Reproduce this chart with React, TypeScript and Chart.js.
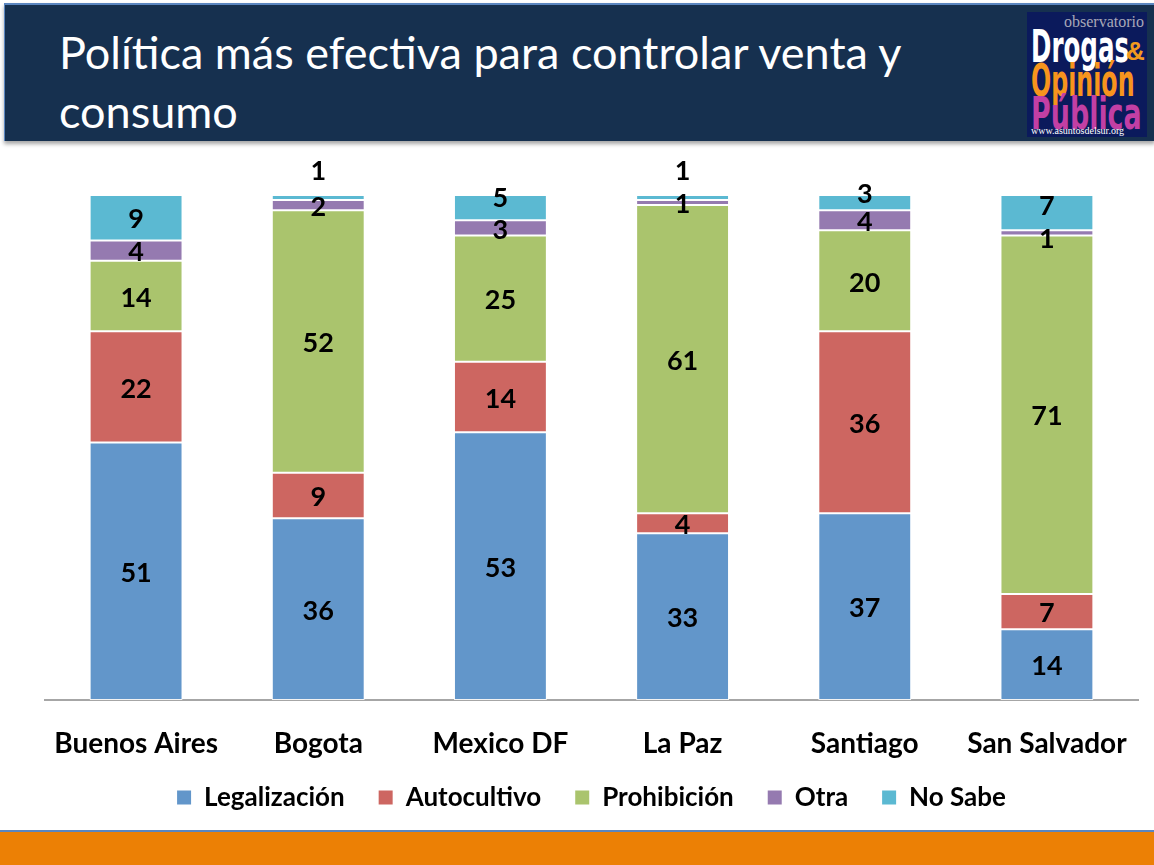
import React, { useEffect, useRef } from "react";
import { Chart, registerables } from "chart.js";

Chart.register(...registerables);

const categories = ["Buenos Aires", "Bogota", "Mexico DF", "La Paz", "Santiago", "San Salvador"];
const seriesNames = ["Legalización", "Autocultivo", "Prohibición", "Otra", "No Sabe"];
const legalizacion = [51, 36, 53, 33, 37, 14];
const autocultivo = [22, 9, 14, 4, 36, 7];
const prohibicion = [14, 52, 25, 61, 20, 71];
const otra = [4, 2, 3, 1, 4, 1];
const noSabe = [9, 1, 5, 1, 3, 7];
const seriesColors = ["#6296CA", "#CD6661", "#AAC46D", "#957AB0", "#5BB9D2"];

// vertical nudges (px) for data labels that were moved off the small segments
const labelNudge = [
  [0, 0, 0, 0, 0, 0],
  [0, 0, 0, 0, 0, 0],
  [0, 0, 0, 0, 0, 0],
  [0, 0, 0, 0, 0, 4],
  [0, -28, -11, -28, -10, -8],
];

const segmentLabels = {
  id: "segmentLabels",
  afterDatasetsDraw(chart: any) {
    const ctx = chart.ctx;
    ctx.save();
    ctx.font = "bold 27px Lato";
    ctx.fillStyle = "#000000";
    ctx.textAlign = "center";
    ctx.textBaseline = "middle";
    chart.data.datasets.forEach((ds: any, i: number) => {
      const meta = chart.getDatasetMeta(i);
      meta.data.forEach((el: any, j: number) => {
        const p = el.getProps(["x", "y", "base"], true);
        const cy = (p.y + p.base) / 2 + 2 + (labelNudge[i]?.[j] ?? 0);
        ctx.fillText(String(ds.data[j]), p.x, cy);
      });
    });
    ctx.restore();
  },
};

// category names under the axis, placed with the x scale
const categoryLabels = {
  id: "categoryLabels",
  afterDraw(chart: any) {
    const ctx = chart.ctx;
    const xs = chart.scales.x;
    ctx.save();
    ctx.font = "bold 28px Lato";
    ctx.fillStyle = "#000000";
    ctx.textAlign = "center";
    ctx.textBaseline = "middle";
    (chart.data.labels as string[]).forEach((lab, i) => {
      ctx.fillText(lab, xs.getPixelForValue(i), xs.top + 44);
    });
    ctx.restore();
  },
};

const logoWord = (color: string, top: number, sx: number): React.CSSProperties => ({
  position: "absolute",
  left: 4,
  top,
  color,
  fontFamily: "'Liberation Sans Narrow', 'DejaVu Sans Condensed', 'DejaVu Sans', sans-serif",
  fontWeight: "bold",
  fontSize: 44,
  lineHeight: "44px",
  whiteSpace: "nowrap",
  transform: `scale(${sx}, 1)`,
  transformOrigin: "left top",
});

export default function App() {
  const canvasRef = useRef<HTMLCanvasElement | null>(null);

  useEffect(() => {
    document.body.style.margin = "0";
    const canvas = canvasRef.current;
    if (!canvas) return;
    const values = [legalizacion, autocultivo, prohibicion, otra, noSabe];
    const chart = new Chart(canvas, {
      type: "bar",
      data: {
        labels: categories,
        datasets: seriesNames.map((name, i) => ({
          label: name,
          data: values[i],
          backgroundColor: seriesColors[i],
          borderColor: "rgba(255,255,255,0.85)",
          borderWidth: 1,
          borderSkipped: false,
          barPercentage: 0.51,
          categoryPercentage: 1,
        })),
      },
      options: {
        responsive: false,
        animation: false,
        devicePixelRatio: 1,
        layout: { padding: { left: 45, right: 16, top: 50, bottom: 9.5 } },
        scales: {
          x: {
            stacked: true,
            grid: { display: false, drawTicks: false },
            border: { display: true, color: "#A6A6A6", width: 2 },
            ticks: { display: false },
            afterFit: (scale: any) => {
              scale.height = 50.5;
            },
          },
          y: {
            stacked: true,
            display: false,
            min: 0,
            max: 100,
          },
        },
        plugins: {
          tooltip: { enabled: false },
          legend: {
            display: true,
            position: "bottom",
            labels: {
              color: "#000000",
              font: { family: "Lato", size: 26, weight: "bold" },
              boxWidth: 14,
              boxHeight: 14,
              padding: 34,
              generateLabels: (c: any) =>
                (Chart.defaults.plugins.legend.labels as any)
                  .generateLabels(c)
                  .map((l: any) => ({ ...l, lineWidth: 0, strokeStyle: "rgba(0,0,0,0)" })),
            },
          },
        },
      },
      plugins: [segmentLabels, categoryLabels],
    });
    return () => chart.destroy();
  }, []);

  return (
    <div
      style={{
        position: "absolute",
        left: 0,
        top: 0,
        width: 1154,
        height: 865,
        overflow: "hidden",
        background: "#FFFFFF",
      }}
    >
      <div
        style={{
          position: "absolute",
          left: 4,
          top: 3,
          width: 1150,
          height: 136,
          background: "#16304F",
          borderTop: "2px solid #5B86C0",
          borderLeft: "1px solid #5B86C0",
          boxShadow: "0 3px 4px rgba(0,0,0,0.35)",
        }}
      />
      <div
        style={{
          position: "absolute",
          left: 59,
          top: 23,
          color: "#FFFFFF",
          fontFamily: "Lato, 'Open Sans', sans-serif",
          fontSize: 45,
          lineHeight: "59px",
          whiteSpace: "nowrap",
        }}
      >
        Política más efectiva para controlar venta y
        <br />
        consumo
      </div>
      <div
        style={{
          position: "absolute",
          left: 1027,
          top: 12,
          width: 120,
          height: 125,
          background: "#0B1A5C",
          overflow: "hidden",
        }}
      >
        <div
          style={{
            position: "absolute",
            right: 3,
            top: 1,
            color: "#A8A8B8",
            fontFamily: "'Liberation Serif', serif",
            fontSize: 16,
            lineHeight: "18px",
          }}
        >
          observatorio
        </div>
        <div style={logoWord("#FFFFFF", 13, 0.62)}>Drogas</div>
        <div
          style={{
            position: "absolute",
            left: 99,
            top: 26,
            color: "#F39A1E",
            fontFamily: "'Liberation Sans', sans-serif",
            fontWeight: "bold",
            fontSize: 26,
            lineHeight: "26px",
          }}
        >
          &amp;
        </div>
        <div style={logoWord("#F7941D", 47, 0.6)}>Opinión</div>
        <div style={logoWord("#C23FA4", 80, 0.68)}>Pública</div>
        <div
          style={{
            position: "absolute",
            left: 4,
            top: 113,
            color: "#FFFFFF",
            fontFamily: "'Liberation Serif', serif",
            fontSize: 10,
            lineHeight: "11px",
            whiteSpace: "nowrap",
          }}
        >
          www.asuntosdelsur.org
        </div>
      </div>
      <canvas
        ref={canvasRef}
        width={1154}
        height={685}
        style={{ position: "absolute", left: 0, top: 145, width: 1154, height: 685 }}
      />
      <div
        style={{
          position: "absolute",
          left: 0,
          top: 830,
          width: 1154,
          height: 35,
          background: "#EC8005",
          borderTop: "2px solid #5B86C0",
        }}
      />
    </div>
  );
}
